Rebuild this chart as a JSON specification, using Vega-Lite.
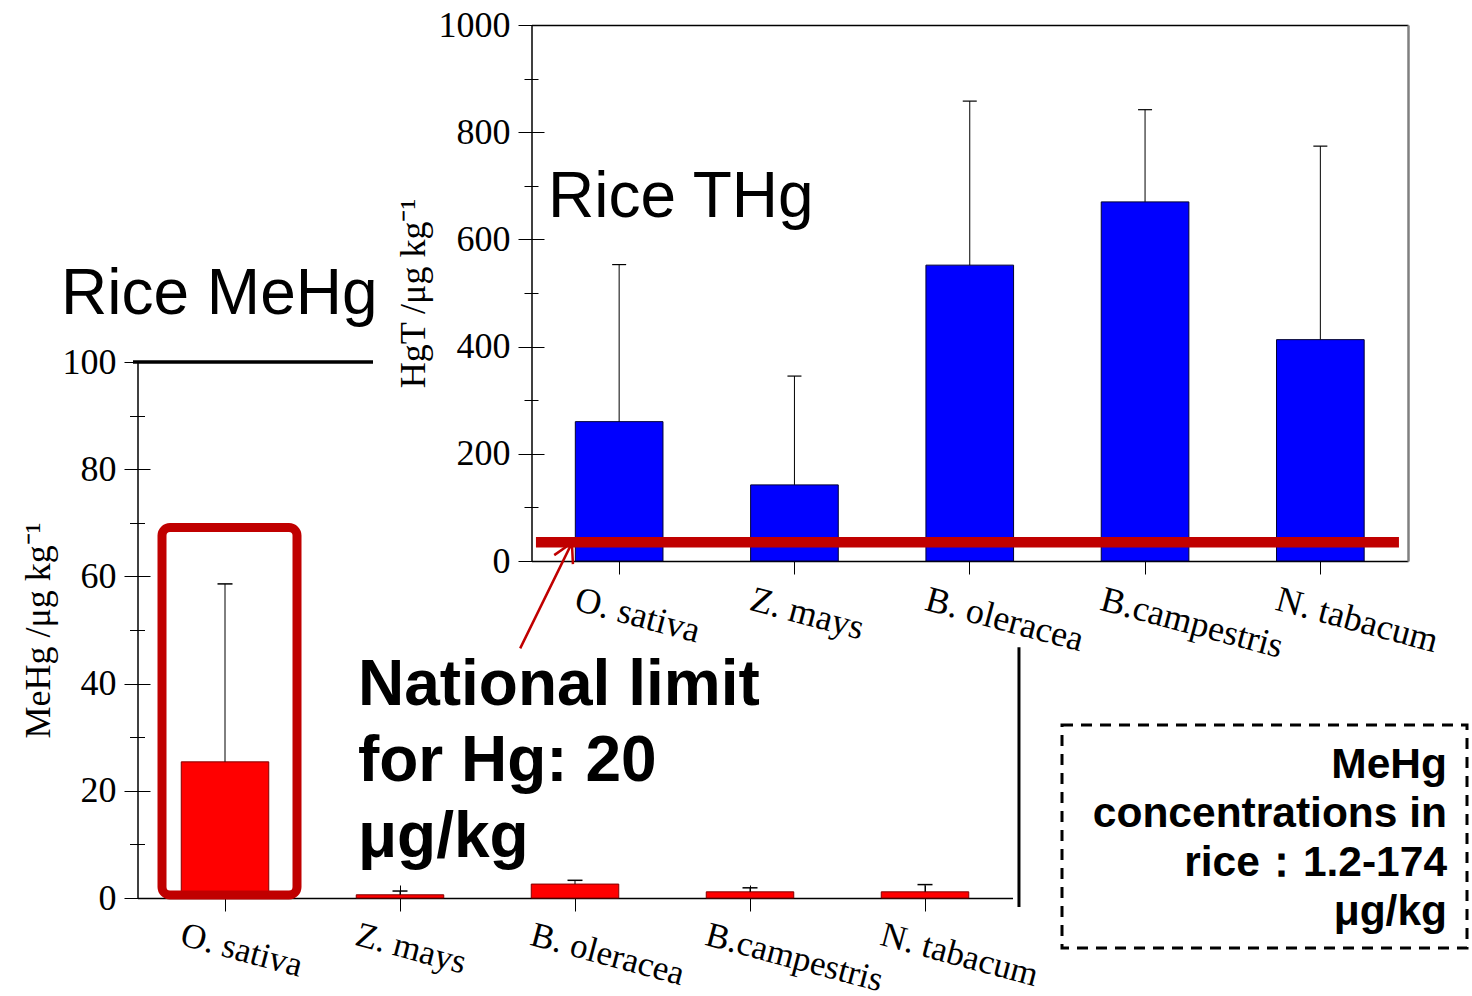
{
  "$schema": "https://vega.github.io/schema/vega-lite/v6.json",
  "width": 1472,
  "height": 996,
  "autosize": {"type": "none"},
  "padding": 0,
  "background": "white",
  "config": {
    "view": {"stroke": null},
    "tick": {"opacity": 1},
    "axis": {
      "grid": false,
      "labelFont": "Liberation Serif",
      "labelFontSize": 36,
      "labelColor": "black",
      "tickColor": "black",
      "tickWidth": 1,
      "domainColor": "black",
      "domainWidth": 1.5,
      "titleFont": "Liberation Serif",
      "titleFontSize": 36,
      "titleFontWeight": "normal",
      "titleColor": "black",
      "labelOverlap": false,
      "labelFlush": false,
      "labelLimit": 0
    }
  },
  "datasets": {
    "thg": [
      {"species": "O. sativa", "mean": 260, "upper": 553},
      {"species": "Z. mays", "mean": 142, "upper": 345},
      {"species": "B. oleracea", "mean": 552, "upper": 858},
      {"species": "B.campestris", "mean": 670, "upper": 842},
      {"species": "N. tabacum", "mean": 413, "upper": 774}
    ],
    "mehg": [
      {"species": "O. sativa", "mean": 25.4, "upper": 58.6},
      {"species": "Z. mays", "mean": 0.6, "upper": 1.3},
      {"species": "B. oleracea", "mean": 2.6, "upper": 3.3},
      {"species": "B.campestris", "mean": 1.15, "upper": 1.9},
      {"species": "N. tabacum", "mean": 1.15, "upper": 2.5}
    ]
  },
  "layer": [
    {
      "layer": [
        {
          "data": {"name": "mehg"},
          "mark": {"type": "bar", "fill": "#ff0000", "stroke": "#800000", "strokeWidth": 1},
          "encoding": {
            "x": {
              "field": "species", "type": "nominal", "sort": null,
              "scale": {"domain": ["O. sativa", "Z. mays", "B. oleracea", "B.campestris", "N. tabacum"], "range": [137.5, 1012.5], "paddingInner": 0.5, "paddingOuter": 0.25},
              "axis": {"orient": "bottom", "offset": -111, "tickSize": 26, "domain": false, "labelAngle": 15, "labelAlign": "left", "labelBaseline": "top", "labelOffset": -39, "labelPadding": 6, "labelFontSize": 35, "title": null}
            },
            "y": {
              "field": "mean", "type": "quantitative",
              "scale": {"domain": [0, 100], "range": [898, 362], "nice": false},
              "axis": {"orient": "left", "offset": -150, "tickSize": 26, "values": [0, 20, 40, 60, 80, 100], "format": "d", "domain": false, "labelPadding": 8, "title": "MeHg /μg kg⁻¹", "titlePadding": 5}
            }
          }
        },
        {
          "data": {"name": "mehg"},
          "mark": {"type": "rule", "color": "black", "strokeWidth": 1},
          "encoding": {
            "x": {"field": "species", "type": "nominal", "sort": null,
              "axis": {"orient": "bottom", "offset": -98, "domain": true, "ticks": false, "labels": false, "title": null}},
            "y": {"field": "mean", "type": "quantitative",
              "axis": {"orient": "left", "offset": -144.5, "tickSize": 15, "values": [10, 30, 50, 70, 90], "labels": false, "domain": false, "title": null}},
            "y2": {"field": "upper"}
          }
        },
        {
          "data": {"name": "mehg"},
          "mark": {"type": "tick", "orient": "horizontal", "size": 15, "thickness": 1.5, "color": "black", "opacity": 1},
          "encoding": {
            "x": {"field": "species", "type": "nominal", "sort": null, "axis": null},
            "y": {"field": "upper", "type": "quantitative",
              "axis": {"orient": "left", "offset": -137.5, "domain": true, "ticks": false, "labels": false, "title": null}}
          }
        },
        {
          "data": {"values": [{"edge": "top"}]},
          "mark": {"type": "tick", "orient": "horizontal", "size": 240, "thickness": 3.5, "color": "black", "opacity": 1, "xOffset": 28},
          "encoding": {
            "x": {"datum": "O. sativa", "type": "nominal", "axis": null},
            "y": {"datum": 100, "type": "quantitative", "axis": null}
          }
        },
        {
          "data": {"values": [{"edge": "right"}]},
          "mark": {"type": "rule", "color": "black", "strokeWidth": 3},
          "encoding": {
            "x": {"datum": "N. tabacum", "type": "nominal", "bandPosition": 1.574, "axis": null},
            "y": {"datum": -1.7, "type": "quantitative", "axis": null},
            "y2": {"datum": 46.8}
          }
        },
        {
          "data": {"values": [{"highlight": "O. sativa"}]},
          "mark": {"type": "bar", "width": 135, "xOffset": 4.5, "fill": "transparent", "stroke": "#c00000", "strokeWidth": 9, "cornerRadius": 8},
          "encoding": {
            "x": {"field": "highlight", "type": "nominal", "axis": null},
            "y": {"datum": 69.1, "type": "quantitative", "axis": null},
            "y2": {"datum": 0.56}
          }
        },
        {
          "data": {"values": [{"label": "Rice MeHg"}]},
          "mark": {"type": "text", "font": "Liberation Sans", "fontSize": 64, "align": "left", "baseline": "alphabetic", "color": "black"},
          "encoding": {
            "x": {"datum": "O. sativa", "type": "nominal", "bandPosition": -1.374, "axis": null},
            "y": {"datum": 108.96, "type": "quantitative", "axis": null},
            "text": {"field": "label"}
          }
        },
        {
          "data": {"values": [{"label": "National limit\nfor Hg: 20\nμg/kg"}]},
          "mark": {"type": "text", "font": "Liberation Sans", "fontWeight": "bold", "fontSize": 64, "lineHeight": 76, "lineBreak": "\n", "align": "left", "baseline": "alphabetic", "color": "black"},
          "encoding": {
            "x": {"datum": "Z. mays", "type": "nominal", "bandPosition": 0.019, "axis": null},
            "y": {"datum": 36.0, "type": "quantitative", "axis": null},
            "text": {"field": "label"}
          }
        },
        {
          "data": {"values": [{"box": "note"}]},
          "mark": {"type": "point", "shape": "M-1,-0.5506H1V0.5506H-1Z", "size": 164025, "filled": false, "stroke": "black", "strokeWidth": 3, "strokeDash": [11, 8], "opacity": 1},
          "encoding": {
            "x": {"datum": "N. tabacum", "type": "nominal", "bandPosition": 4.38, "axis": null},
            "y": {"datum": 11.47, "type": "quantitative", "axis": null}
          }
        },
        {
          "data": {"values": [{"label": "MeHg\nconcentrations in\nrice：1.2-174\nμg/kg"}]},
          "mark": {"type": "text", "font": "Liberation Sans", "fontWeight": "bold", "fontSize": 42.5, "lineHeight": 49, "lineBreak": "\n", "align": "right", "baseline": "alphabetic", "color": "black"},
          "encoding": {
            "x": {"datum": "N. tabacum", "type": "nominal", "bandPosition": 6.466, "axis": null},
            "y": {"datum": 22.39, "type": "quantitative", "axis": null},
            "text": {"field": "label"}
          }
        }
      ],
      "resolve": {"axis": {"x": "independent", "y": "independent"}}
    },
    {
      "layer": [
        {
          "data": {"name": "thg"},
          "mark": {"type": "bar", "fill": "#0000ff", "stroke": "#000033", "strokeWidth": 1},
          "encoding": {
            "x": {
              "field": "species", "type": "nominal", "sort": null,
              "scale": {"domain": ["O. sativa", "Z. mays", "B. oleracea", "B.campestris", "N. tabacum"], "range": [531.5, 1408], "paddingInner": 0.5, "paddingOuter": 0.25},
              "axis": {"orient": "bottom", "offset": -448, "tickSize": 26, "domain": false, "labelAngle": 15, "labelAlign": "left", "labelBaseline": "top", "labelOffset": -39, "labelPadding": 8, "title": null}
            },
            "y": {
              "field": "mean", "type": "quantitative",
              "scale": {"domain": [0, 1000], "range": [561, 25], "nice": false},
              "axis": {"orient": "left", "offset": -544, "tickSize": 26, "values": [0, 200, 400, 600, 800, 1000], "format": "d", "domain": false, "labelPadding": 8, "title": "HgT /μg kg⁻¹", "titlePadding": 6}
            }
          }
        },
        {
          "data": {"name": "thg"},
          "mark": {"type": "rule", "color": "black", "strokeWidth": 1},
          "encoding": {
            "x": {"field": "species", "type": "nominal", "sort": null,
              "axis": {"orient": "bottom", "offset": -435, "domain": true, "ticks": false, "labels": false, "title": null}},
            "y": {"field": "mean", "type": "quantitative",
              "axis": {"orient": "left", "offset": -538, "tickSize": 14, "values": [100, 300, 500, 700, 900], "labels": false, "domain": false, "title": null}},
            "y2": {"field": "upper"}
          }
        },
        {
          "data": {"name": "thg"},
          "mark": {"type": "tick", "orient": "horizontal", "size": 14, "thickness": 1.2, "color": "black", "opacity": 1},
          "encoding": {
            "x": {"field": "species", "type": "nominal", "sort": null,
              "axis": {"orient": "top", "offset": -25, "domain": true, "ticks": false, "labels": false, "title": null}},
            "y": {"field": "upper", "type": "quantitative",
              "axis": {"orient": "left", "offset": -531.5, "domain": true, "ticks": false, "labels": false, "title": null}}
          }
        },
        {
          "data": {"values": [{"limit": "national limit"}]},
          "mark": {"type": "tick", "orient": "horizontal", "size": 863, "thickness": 10.5, "color": "#c00000", "opacity": 1, "xOffset": -2.3},
          "encoding": {
            "x": {"datum": "B. oleracea", "type": "nominal", "axis": null},
            "y": {"datum": 35, "type": "quantitative",
              "axis": {"orient": "right", "offset": -64, "domain": true, "domainColor": "#808080", "domainWidth": 2.5, "ticks": false, "labels": false, "title": null}}
          }
        },
        {
          "data": {"values": [{"label": "Rice THg"}]},
          "mark": {"type": "text", "font": "Liberation Sans", "fontSize": 64, "align": "left", "baseline": "alphabetic", "color": "black"},
          "encoding": {
            "x": {"datum": "O. sativa", "type": "nominal", "bandPosition": -0.312, "axis": null},
            "y": {"datum": 641.8, "type": "quantitative", "axis": null},
            "text": {"field": "label"}
          }
        },
        {
          "data": {"values": [{"arrow": "to limit"}]},
          "mark": {"type": "point", "shape": "M-0.49,1L0.49,-1M0.155,-0.767L0.49,-1L0.509,-0.597", "size": 11151, "filled": false, "stroke": "#c00000", "strokeWidth": 2.5, "opacity": 1},
          "encoding": {
            "x": {"datum": "O. sativa", "type": "nominal", "bandPosition": -0.334, "axis": null},
            "y": {"datum": -64.6, "type": "quantitative", "axis": null}
          }
        }
      ],
      "resolve": {"axis": {"x": "independent", "y": "independent"}}
    }
  ],
  "resolve": {
    "scale": {"x": "independent", "y": "independent"},
    "axis": {"x": "independent", "y": "independent"}
  }
}
